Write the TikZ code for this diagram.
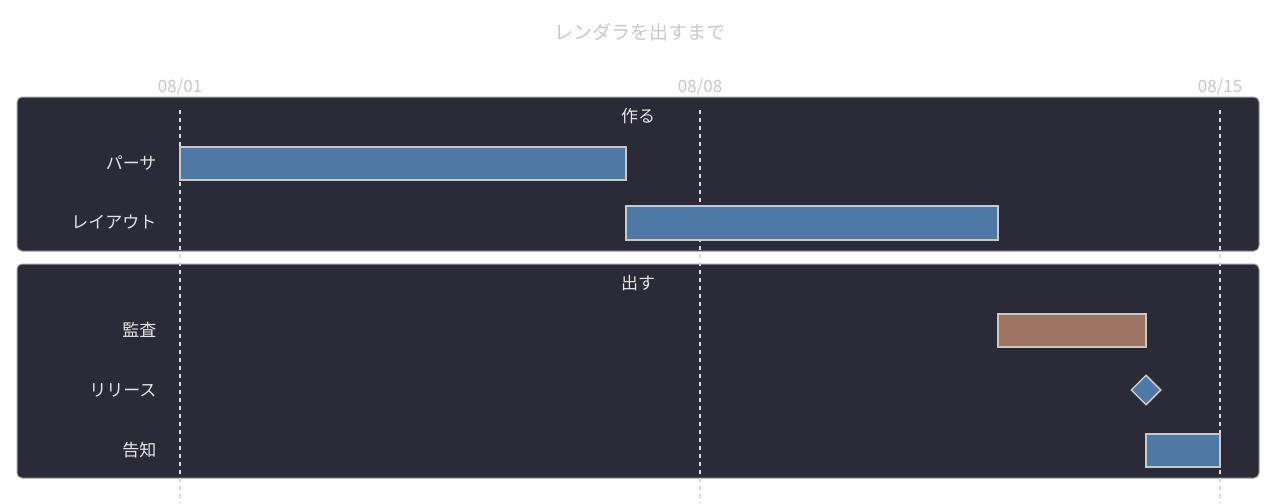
\documentclass[tikz,border=0pt]{standalone}
\usepackage{fontspec}
\setmainfont{Noto Sans CJK JP}
\usetikzlibrary{shapes.geometric}
\definecolor{panel}{HTML}{2B2A37}
\definecolor{bluebar}{HTML}{4E79A7}
\definecolor{brownbar}{HTML}{9C7461}
\definecolor{lgray}{HTML}{C8C8C8}
\begin{document}
\begin{tikzpicture}[x=1pt,y=-1pt,
  panelbox/.style={draw=lgray!80!black,fill=panel,rounded corners=5pt,line width=1pt},
  bar/.style={draw=lgray,line width=1.5pt},
  lbl/.style={anchor=east,text=white!90!black,font=\fontsize{17}{17}\selectfont},
  sec/.style={text=white!90!black,font=\fontsize{17}{17}\selectfont},
  date/.style={text=lgray,font=\fontsize{17}{17}\selectfont},
  grid/.style={draw=white!85!black,dashed,dash pattern=on 4pt off 4pt,line width=2pt}]
\useasboundingbox (0,0) rectangle (1276,503);
\node[text=lgray,font=\fontsize{19}{19}\selectfont] (title) at (640,32) {レンダラを出すまで};
\node[date] (d1) at (180,87) {08/01};
\node[date] (d2) at (700,87) {08/08};
\node[date] (d3) at (1220,87) {08/15};
\draw[panelbox] (17,97) rectangle (1259,251);
\draw[panelbox] (17,264) rectangle (1259,478);
\foreach \x in {180,700,1220} \draw[grid] (\x,110) -- (\x,503);
\node[sec] (s1) at (638,116) {作る};
\node[sec] (s2) at (638,283) {出す};
\node[lbl] (l1) at (160,163) {パーサ};
\node[lbl] (l2) at (160,222) {レイアウト};
\node[lbl] (l3) at (160,330) {監査};
\node[lbl] (l4) at (160,390) {リリース};
\node[lbl] (l5) at (160,450) {告知};
\draw[bar,fill=bluebar] (180,147) rectangle (626,180);
\draw[bar,fill=bluebar] (626,206) rectangle (998,240);
\draw[bar,fill=brownbar] (998,314) rectangle (1146,347);
\node[diamond,draw=lgray,line width=1.5pt,fill=bluebar,minimum size=30pt,inner sep=0pt] (m) at (1146,390) {};
\draw[bar,fill=bluebar] (1146,434) rectangle (1220,467);
\end{tikzpicture}
\end{document}
